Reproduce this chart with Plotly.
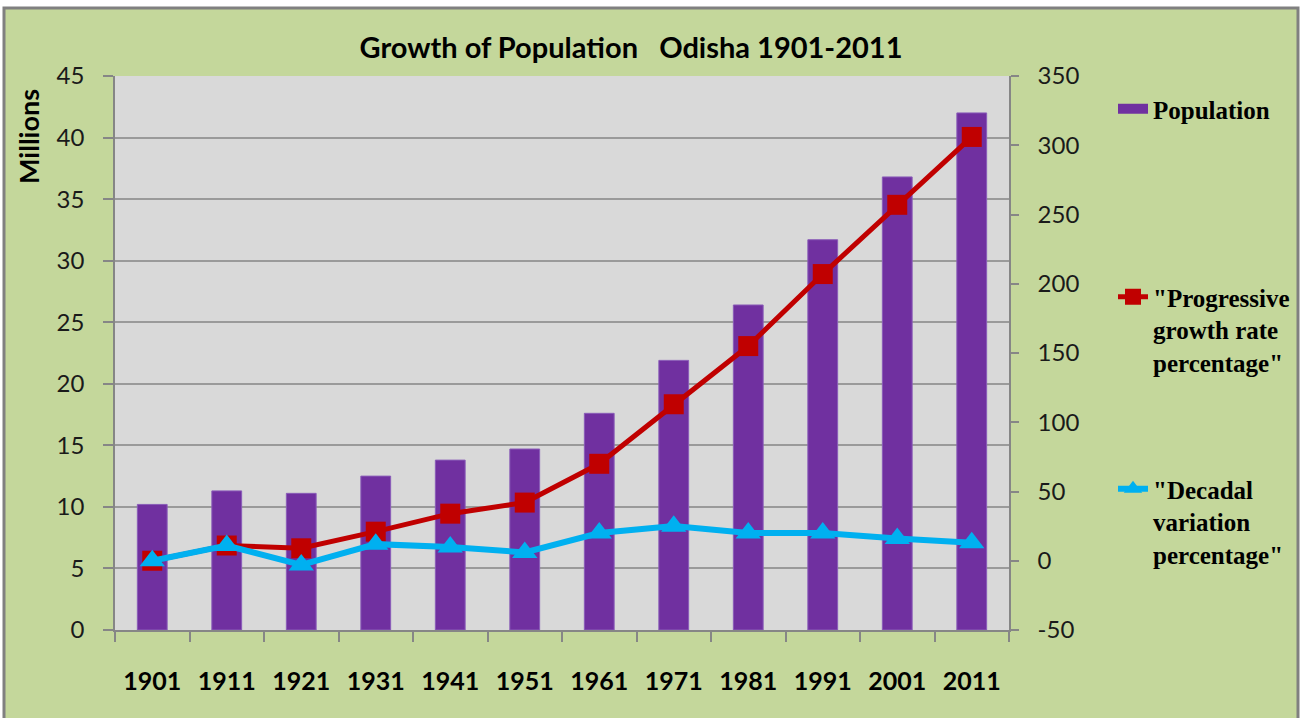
import plotly.graph_objects as go

years = ["1901", "1911", "1921", "1931", "1941", "1951", "1961", "1971", "1981", "1991", "2001", "2011"]
population = [10.2, 11.3, 11.1, 12.5, 13.8, 14.7, 17.6, 21.9, 26.4, 31.7, 36.8, 42.0]
progressive = [0, 11, 9, 21, 34, 42, 70, 113, 155, 207, 257, 306]
decadal = [0, 11, -3, 12, 10, 6, 20, 25, 20, 20, 16, 13]
right_tick_vals = [-50, 0, 50, 100, 150, 200, 250, 300, 350]
right_tick_text = ["-50", "0", "50", "100", "150", "200", "250", "300", "350"]

PURPLE = "#7030A0"
RED = "#C00000"
BLUE = "#00B0F0"
GREEN = "#C4D79B"
PLOTBG = "#D9D9D9"
GRID = "#9A9A9A"
AXIS = "#868686"

W, H = 1303, 718
L, R, T, B = 115, 294, 76, 88
pw = W - L - R
ph = H - T - B

def px_x(x):
    return (x - L) / pw

def px_y(y):
    return (H - B - y) / ph

NUM_FONT = dict(family="Lato, Open Sans, sans-serif", size=24, color="#1a1a1a")
COND = "Lato, Open Sans, sans-serif"
SERIF = "Liberation Serif, Times New Roman, serif"

fig = go.Figure()

fig.add_trace(go.Bar(
    x=years, y=population, name="Population",
    marker=dict(color=PURPLE, line=dict(color="#8A5CB8", width=1)),
    showlegend=False, yaxis="y",
))
# legend-only swatch for Population
fig.add_trace(go.Scatter(
    x=[None], y=[None], mode="lines", name="Population",
    line=dict(color=PURPLE, width=14), legend="legend", yaxis="y",
))
fig.add_trace(go.Scatter(
    x=years, y=progressive, mode="lines+markers",
    name="\"Progressive<br>growth rate<br>percentage\"",
    line=dict(color=RED, width=5),
    marker=dict(symbol="square", size=20, color=RED),
    yaxis="y2", legend="legend2",
))
fig.add_trace(go.Scatter(
    x=years, y=decadal, mode="lines+markers",
    name="\"Decadal<br>variation<br>percentage\"",
    line=dict(color=BLUE, width=6),
    marker=dict(symbol="triangle-up", size=22, color=BLUE),
    yaxis="y2", legend="legend3",
))

legend_common = dict(
    xref="container", yref="container", xanchor="left", yanchor="top",
    font=dict(family=SERIF, size=25, color="#000000", weight="bold"),
    bgcolor="rgba(0,0,0,0)", valign="top", itemclick=False,
)

fig.update_layout(
    width=W, height=H,
    margin=dict(l=L, r=R, t=T, b=B, autoexpand=False),
    paper_bgcolor="#FFFFFF",
    plot_bgcolor=PLOTBG,
    title=dict(
        text="Growth of Population\u00a0\u00a0\u00a0Odisha 1901-2011",
        x=631 / W, xref="container", xanchor="center",
        y=1 - 48 / H, yref="container", yanchor="middle",
        font=dict(family=COND, size=29, color="#000000", weight="bold"),
    ),
    bargap=0.6,
    xaxis=dict(
        type="category", domain=[0, 1], automargin=False,
        range=[-0.5, len(years) - 0.5], autorange=False,
        showline=True, linecolor=AXIS, linewidth=1.5,
        ticks="outside", tickson="boundaries", ticklen=10, tickcolor=AXIS, tickwidth=1.5,
        tickfont=dict(family=COND, size=25, color="#000000", weight="bold"),
        tickangle=0,
        ticklabelstandoff=28,
        showgrid=False,
    ),
    yaxis=dict(
        range=[0, 45], dtick=5, tick0=0, automargin=False,
        showline=True, linecolor=AXIS, linewidth=1.5,
        ticks="outside", ticklen=10, tickcolor=AXIS, tickwidth=1.5,
        showgrid=True, gridcolor=GRID, gridwidth=2,
        tickfont=NUM_FONT, ticklabelstandoff=14,
        zeroline=False,
    ),
    yaxis2=dict(
        range=[-50, 350], automargin=False,
        tickmode="array", tickvals=right_tick_vals, ticktext=right_tick_text,
        overlaying="y", side="right",
        showline=True, linecolor=AXIS, linewidth=1.5,
        ticks="outside", ticklen=8, tickcolor=AXIS, tickwidth=1.5,
        showgrid=False, zeroline=False,
        tickfont=NUM_FONT, ticklabelstandoff=14,
    ),
    legend=dict(x=1113 / W, y=1 - 86 / H, **legend_common),
    legend2=dict(x=1113 / W, y=1 - 274 / H, **legend_common),
    legend3=dict(x=1113 / W, y=1 - 466 / H, **legend_common),
    shapes=[
        dict(type="rect", xref="paper", yref="paper", layer="below",
             x0=px_x(4), x1=px_x(1298), y0=px_y(722), y1=px_y(8),
             fillcolor=GREEN, line=dict(color="#808080", width=3)),
        dict(type="rect", xref="paper", yref="paper", layer="below",
             x0=0, x1=1, y0=0, y1=1,
             fillcolor=PLOTBG, line=dict(width=0)),
    ],
    annotations=[
        dict(text="<b>Millions</b>", xref="paper", yref="paper",
             x=px_x(28), y=px_y(137), xanchor="center", yanchor="middle",
             textangle=-90, showarrow=False,
             font=dict(family="Lato, Open Sans, sans-serif", size=27, color="#000000")),
    ],
)

fig.write_html("out.html", config={"displayModeBar": False},
               post_script="document.body.style.margin='0';")
